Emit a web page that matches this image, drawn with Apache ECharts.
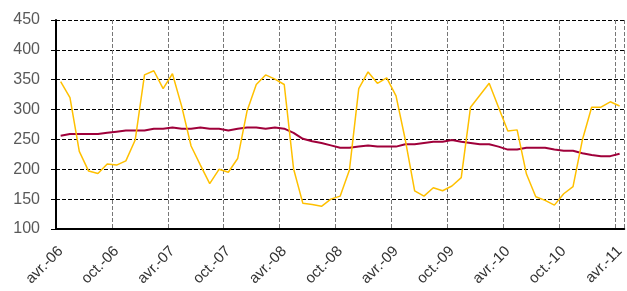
<!DOCTYPE html>
<html><head><meta charset="utf-8">
<script src="https://cdn.jsdelivr.net/npm/echarts@6/dist/echarts.min.js"></script>
<style>html,body{margin:0;padding:0;background:#fff}#c{width:627px;height:291px}</style>
</head><body><div id="c"></div>
<script>
const monthNames = ['janv.','févr.','mars','avr.','mai','juin','juil.','août','sept.','oct.','nov.','déc.'];
const categories = [];
for (let y = 2006, m = 3; categories.length < 61; ) {
  categories.push(monthNames[m] + '-' + String(y).slice(2));
  m++; if (m > 11) { m = 0; y++; }
}
const yellowSeries = [347,320,230,197,193,209,207,214,249,358,365,335,360,305,239,207,176,200,195,218,297,342,358,351,342,201,143,141,138,150,155,199,335,363,344,353,323,249,164,155,169,164,172,186,304,324,344,304,264,266,192,154,148,140,159,171,249,304,304,313,306];
const redSeries = [256,259,259,259,259,261,263,265,265,265,268,268,270,268,268,270,268,268,265,268,270,270,268,270,268,261,251,247,244,240,236,236,238,240,238,238,238,242,242,244,246,246,249,246,244,242,242,238,233,233,236,236,236,233,231,231,227,224,222,222,226];
const yTicks = {min:100, max:450, interval:50};

const chart = echarts.init(document.getElementById('c'));
chart.setOption({
  animation:false,
  grid:{left:56, top:20, width:572, bottom:62},
  xAxis:{
    type:'category', data:categories, boundaryGap:true,
    axisLine:{lineStyle:{color:'#000', width:2}},
    axisTick:{interval:5, length:5, lineStyle:{color:'#000', width:1}},
    axisLabel:{interval:5, rotate:45, color:'#333', fontSize:15, fontFamily:'Liberation Sans, Arial, sans-serif', margin:20},
    splitLine:{show:true, interval:5, lineStyle:{color:'#777', type:[4,2], width:1}}
  },
  yAxis:{
    type:'value', min:yTicks.min, max:yTicks.max, interval:yTicks.interval,
    axisLine:{show:true, lineStyle:{color:'#000', width:2}},
    axisTick:{show:true, length:5, lineStyle:{color:'#000'}},
    axisLabel:{color:'#595959', fontSize:16, fontFamily:'Liberation Sans, Arial, sans-serif', margin:16},
    splitLine:{show:true, lineStyle:{color:'#000', type:[4,2], width:1}}
  },
  series:[
    {type:'line', data:redSeries, symbol:'none', lineStyle:{color:'#A0003A', width:2}, z:3},
    {type:'line', data:yellowSeries, symbol:'none', lineStyle:{color:'#FFC000', width:1.5}, z:4}
  ]
});
</script></body></html>
